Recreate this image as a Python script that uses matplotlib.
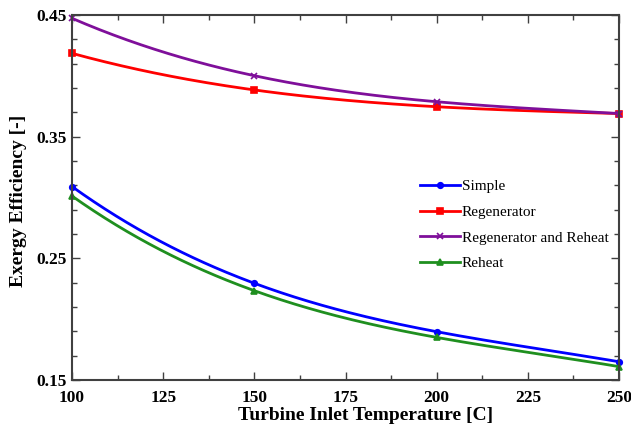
import numpy as np
import matplotlib
matplotlib.use('Agg')
import matplotlib.pyplot as plt
from matplotlib.ticker import FixedLocator, MultipleLocator

# data
temps = [100, 150, 200, 250]
simple = [0.309, 0.2295, 0.1897, 0.165]
regenerator = [0.4185, 0.3884, 0.3746, 0.369]
regen_reheat = [0.4473, 0.4001, 0.3787, 0.369]
reheat = [0.3012, 0.2234, 0.185, 0.161]

series = [
    ('Simple', simple, '#0000ff', 'o'),
    ('Regenerator', regenerator, '#ff0000', 's'),
    ('Regenerator and Reheat', regen_reheat, '#7f0f9a', 'x'),
    ('Reheat', reheat, '#1f8f1f', '^'),
]

plt.rcParams['font.family'] = ['Liberation Serif', 'DejaVu Serif']

fig = plt.figure(figsize=(6.31, 4.26), dpi=100)
ax = fig.add_axes([0.1141, 0.108, 0.8669, 0.8568])

x = np.array(temps, dtype=float)
xs = np.linspace(x.min(), x.max(), 200)
for name, vals, color, marker in series:
    # smooth line through the four points (drawing only)
    coef = np.polyfit(x, vals, 3)
    ax.plot(xs, np.polyval(coef, xs), color=color, lw=2)
    ax.plot(temps, vals, color=color, lw=0, marker=marker, ms=4, mew=1.2, clip_on=False)
    ax.plot([], [], color=color, lw=2, marker=marker, ms=4, mew=1.2, label=name)

ax.set_xlim(100, 250)
ax.set_ylim(0.15, 0.45)
ax.xaxis.set_major_locator(MultipleLocator(25))
ax.xaxis.set_minor_locator(MultipleLocator(12.5))
ax.yaxis.set_major_locator(FixedLocator([0.15, 0.25, 0.35, 0.45]))
ax.yaxis.set_minor_locator(FixedLocator(np.arange(0.17, 0.45, 0.02)))
ax.yaxis.set_major_formatter(plt.FuncFormatter(lambda v, p: f'{v:.2f}'))
ax.tick_params(which='both', direction='in', top=True, right=True, width=1, colors='#404040')
ax.tick_params(which='major', length=6, labelsize=12.5, labelcolor='black')
ax.tick_params(axis='x', which='major', pad=7)
ax.tick_params(axis='y', which='major', pad=4)
ax.tick_params(which='minor', length=3.5)
for lab in ax.get_xticklabels() + ax.get_yticklabels():
    lab.set_fontweight('bold')
for sp in ax.spines.values():
    sp.set_linewidth(1.5)
    sp.set_color('#404040')

ax.set_xlabel('Turbine Inlet Temperature [C]', fontsize=14, fontweight='bold')
ax.xaxis.set_label_coords(0.537, -0.073)
ax.set_ylabel('Exergy Efficiency [-]', fontsize=14, fontweight='bold')
ax.yaxis.set_label_coords(-0.082, 0.49)

ax.legend(loc='upper left', bbox_to_anchor=(0.636, 0.549), frameon=False, fontsize=11,
          handlelength=2.6, handletextpad=0.15, labelspacing=0.78,
          borderpad=0, borderaxespad=0)

fig.savefig('out.png', dpi=100)
